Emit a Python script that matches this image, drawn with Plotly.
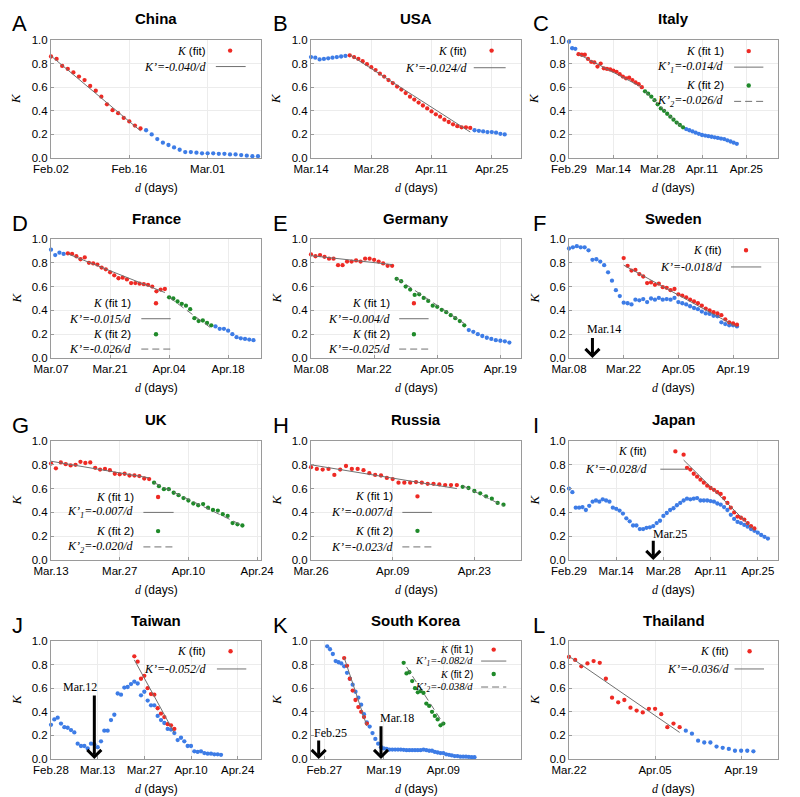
import pandas as pd
import plotly.graph_objects as go
from plotly.subplots import make_subplots

# the page adds an 8px body margin, so the figure is drawn 8px smaller and
# every pixel position below is given in window coordinates minus that offset
OFF = 8
W, H = 800 - OFF, 797 - OFF
RED = "#ee2a24"
BLUE = "#3d7ce6"
GREEN = "#1f8a2a"
FITC = "#707070"
SANS = "Liberation Sans, Arial, sans-serif"
SERIF = "Liberation Serif, Times New Roman, serif"

# ---------------- data ----------------
# A China
china_red_start = "2020-02-02"
china_red = [0.86, 0.84, 0.78, 0.755, 0.725, 0.69, 0.66, 0.61, 0.57, 0.52, 0.455, 0.405,
             0.38, 0.34, 0.31, 0.275, 0.25]
china_blue_start = "2020-02-19"
china_blue = [0.235, 0.2, 0.16, 0.13, 0.11, 0.09, 0.07, 0.05, 0.05, 0.045, 0.04, 0.04, 0.04,
              0.035, 0.035, 0.03, 0.03, 0.025, 0.02, 0.015, 0.015]
china_fit_x = ["2020-02-02", "2020-02-18"]
china_fit_y = [0.865, 0.23]
china_ticks = ["Feb.02", "Feb.16", "Mar.01"]

# B USA
usa_blue_a_start = "2020-03-14"
usa_blue_a = [0.855, 0.85, 0.835, 0.84, 0.845, 0.85, 0.855, 0.86, 0.865]
usa_red_start = "2020-03-23"
usa_red = [0.87, 0.855, 0.84, 0.82, 0.795, 0.77, 0.745, 0.715, 0.69, 0.66, 0.635, 0.605, 0.58,
           0.55, 0.52, 0.495, 0.47, 0.445, 0.42, 0.395, 0.37, 0.35, 0.325, 0.305, 0.285, 0.27,
           0.26, 0.26, 0.255]
usa_blue_b_start = "2020-04-21"
usa_blue_b = [0.235, 0.23, 0.225, 0.22, 0.22, 0.215, 0.205, 0.2]
usa_fit_x = ["2020-03-23", "2020-04-20"]
usa_fit_y = [0.875, 0.22]
usa_ticks = ["Mar.14", "Mar.28", "Apr.11", "Apr.25"]

# C Italy
italy_blue_a_start = "2020-02-29"
italy_blue_a = [0.985, 0.93, 0.925]
italy_red_start = "2020-03-03"
italy_red = [0.88, 0.875, 0.875, 0.84, 0.815, 0.81, 0.775, 0.8, 0.76, 0.755, 0.75, 0.74, 0.73,
             0.71, 0.69, 0.675, 0.68, 0.66, 0.64, 0.625, 0.6]
italy_green_start = "2020-03-24"
italy_green = [0.565, 0.545, 0.52, 0.49, 0.455, 0.42, 0.4, 0.375, 0.35, 0.325, 0.3, 0.28, 0.26]
italy_blue_b_start = "2020-04-06"
italy_blue_b = [0.245, 0.235, 0.225, 0.215, 0.205, 0.195, 0.19, 0.185, 0.18, 0.175, 0.17,
                0.165, 0.16, 0.15, 0.14, 0.13, 0.12]
italy_fit1_x = ["2020-03-03", "2020-03-23"]
italy_fit1_y = [0.88, 0.6]
italy_fit2_x = ["2020-03-24", "2020-04-05"]
italy_fit2_y = [0.565, 0.25]
italy_ticks = ["Feb.29", "Mar.14", "Mar.28", "Apr.11", "Apr.25"]

# D France
france_blue_a_start = "2020-03-07"
france_blue_a = [0.91, 0.865, 0.885, 0.875]
france_red_start = "2020-03-11"
france_red = [0.88, 0.875, 0.855, 0.83, 0.845, 0.8, 0.795, 0.785, 0.76, 0.745, 0.72, 0.695,
              0.67, 0.675, 0.66, 0.63, 0.63, 0.625, 0.62, 0.615, 0.6, 0.56, 0.575, 0.58]
france_green_start = "2020-04-04"
france_green = [0.51, 0.5, 0.475, 0.455, 0.44, 0.41, 0.335, 0.31, 0.315, 0.295, 0.275]
france_blue_b_start = "2020-04-15"
france_blue_b = [0.265, 0.245, 0.245, 0.23, 0.2, 0.175, 0.165, 0.16, 0.155, 0.15]
france_fit1_x = ["2020-03-11", "2020-04-03"]
france_fit1_y = [0.875, 0.55]
france_fit2_x = ["2020-04-04", "2020-04-14"]
france_fit2_y = [0.51, 0.25]
france_ticks = ["Mar.07", "Mar.21", "Apr.04", "Apr.18"]

# E Germany
germany_red_start = "2020-03-08"
germany_red = [0.87, 0.855, 0.865, 0.85, 0.835, 0.835, 0.78, 0.78, 0.81, 0.81, 0.82, 0.81,
               0.835, 0.835, 0.825, 0.81, 0.795, 0.775, 0.775]
germany_green_start = "2020-03-27"
germany_green = [0.665, 0.645, 0.6, 0.575, 0.53, 0.535, 0.505, 0.48, 0.44, 0.43, 0.405, 0.385,
                 0.36, 0.335, 0.31, 0.275]
germany_blue_start = "2020-04-12"
germany_blue = [0.235, 0.22, 0.2, 0.185, 0.17, 0.16, 0.15, 0.145, 0.14, 0.13]
germany_fit1_x = ["2020-03-08", "2020-03-26"]
germany_fit1_y = [0.86, 0.785]
germany_fit2_x = ["2020-03-27", "2020-04-11"]
germany_fit2_y = [0.67, 0.29]
germany_ticks = ["Mar.08", "Mar.22", "Apr.05", "Apr.19"]

# F Sweden
sweden_blue_start = "2020-03-08"
sweden_blue = [0.92, 0.93, 0.94, 0.93, 0.93, 0.905, 0.825, 0.83, 0.81, 0.78, 0.72, 0.65, 0.57,
               0.52, 0.465, 0.46, 0.45, 0.49, 0.485, 0.495, 0.47, 0.5, 0.49, 0.505, 0.49, 0.495,
               0.49, 0.505, 0.47, 0.46, 0.45, 0.435, 0.42, 0.41, 0.39, 0.375, 0.37, 0.355,
               0.35, 0.3, 0.285, 0.275, 0.275, 0.265]
sweden_red_start = "2020-03-22"
sweden_red = [0.84, 0.775, 0.735, 0.74, 0.705, 0.685, 0.63, 0.635, 0.615, 0.625, 0.595, 0.59,
              0.57, 0.58, 0.535, 0.525, 0.51, 0.49, 0.475, 0.46, 0.44, 0.415, 0.4, 0.385,
              0.375, 0.36, 0.325, 0.3, 0.29, 0.28]
sweden_fit_x = ["2020-03-22", "2020-04-20"]
sweden_fit_y = [0.78, 0.26]
sweden_ticks = ["Mar.08", "Mar.22", "Apr.05", "Apr.19"]

# G UK
uk_red_start = "2020-03-13"
uk_red = [0.81, 0.77, 0.82, 0.805, 0.795, 0.8, 0.825, 0.815, 0.82, 0.775, 0.76, 0.765, 0.755,
          0.725, 0.72, 0.725, 0.71, 0.71, 0.705, 0.685, 0.68]
uk_green_start = "2020-04-03"
uk_green = [0.65, 0.62, 0.595, 0.595, 0.565, 0.545, 0.52, 0.5, 0.475, 0.46, 0.47, 0.44, 0.42,
            0.415, 0.385, 0.37, 0.31, 0.3, 0.29]
uk_fit1_x = ["2020-03-13", "2020-04-02"]
uk_fit1_y = [0.83, 0.69]
uk_fit2_x = ["2020-04-03", "2020-04-21"]
uk_fit2_y = [0.65, 0.29]
uk_ticks = ["Mar.13", "Mar.27", "Apr.10", "Apr.24"]

# H Russia
russia_red_start = "2020-03-26"
russia_red = [0.78, 0.765, 0.76, 0.765, 0.715, 0.76, 0.79, 0.765, 0.765, 0.755, 0.73, 0.715,
              0.71, 0.69, 0.68, 0.65, 0.65, 0.65, 0.655, 0.65, 0.64, 0.64, 0.635, 0.63, 0.63,
              0.63]
russia_green_start = "2020-04-21"
russia_green = [0.615, 0.605, 0.58, 0.56, 0.535, 0.515, 0.48, 0.465]
russia_fit1_x = ["2020-03-26", "2020-04-20"]
russia_fit1_y = [0.8, 0.6]
russia_fit2_x = ["2020-04-21", "2020-04-28"]
russia_fit2_y = [0.625, 0.455]
russia_ticks = ["Mar.26", "Apr.09", "Apr.23"]

# I Japan
japan_blue_start = "2020-02-29"
japan_blue = [0.6, 0.57, 0.44, 0.44, 0.445, 0.42, 0.455, 0.49, 0.5, 0.49, 0.51, 0.5, 0.49,
              0.44, 0.43, 0.415, 0.39, 0.35, 0.325, 0.29, 0.29, 0.26, 0.26, 0.27, 0.275, 0.285,
              0.31, 0.33, 0.37, 0.395, 0.42, 0.435, 0.46, 0.48, 0.5, 0.515, 0.51, 0.515, 0.52,
              0.5, 0.5, 0.5, 0.495, 0.49, 0.475, 0.465, 0.445, 0.42, 0.38, 0.345, 0.32, 0.31,
              0.295, 0.28, 0.26, 0.245, 0.23, 0.21, 0.195, 0.18]
japan_red_start = "2020-04-03"
japan_red = [0.885, 0.775, 0.76, 0.725, 0.7, 0.675, 0.65, 0.625, 0.605, 0.59, 0.57, 0.555,
             0.52, 0.48, 0.44, 0.4, 0.365, 0.355, 0.34, 0.31, 0.285, 0.265]
japan_fit_x = ["2020-04-03", "2020-04-24"]
japan_fit_y = [0.84, 0.25]
japan_ticks = ["Feb.29", "Mar.14", "Mar.28", "Apr.11", "Apr.25"]

# J Taiwan
taiwan_blue_start = "2020-02-28"
taiwan_blue = [0.29, 0.335, 0.35, 0.3, 0.27, 0.265, 0.245, 0.225, 0.13, 0.11, 0.11, 0.09,
               0.13, 0.125, 0.1, 0.15, 0.24, 0.24, 0.33, 0.375, 0.555, 0.545, 0.605, 0.61,
               0.635, 0.655, 0.64, 0.54, 0.57, 0.495, 0.455, 0.455, 0.365, 0.33, 0.305, 0.255,
               0.25, 0.22, 0.16, 0.18, 0.15, 0.11, 0.11, 0.065, 0.06, 0.065, 0.05, 0.045,
               0.045, 0.04, 0.04, 0.035]
taiwan_red_start = "2020-03-24"
taiwan_red = [0.87, 0.825, 0.68, 0.705, 0.6, 0.55, 0.545, 0.43, 0.385, 0.355, 0.295, 0.285,
              0.255]
taiwan_fit_x = ["2020-03-24", "2020-04-05"]
taiwan_fit_y = [0.84, 0.22]
taiwan_ticks = ["Feb.28", "Mar.13", "Mar.27", "Apr.10", "Apr.24"]

# K South Korea
korea_blue_start = "2020-02-28"
korea_blue = [0.955, 0.93, 0.89, 0.83, 0.82, 0.81, 0.785, 0.73, 0.68, 0.63, 0.57, 0.52, 0.46,
              0.38, 0.31, 0.275, 0.22, 0.17, 0.13, 0.1, 0.09, 0.085, 0.08, 0.08, 0.08, 0.08,
              0.08, 0.078, 0.075, 0.075, 0.075, 0.075, 0.075, 0.075, 0.08, 0.075, 0.07, 0.07,
              0.06, 0.055, 0.05, 0.05, 0.04, 0.035, 0.03, 0.025, 0.025, 0.02, 0.02, 0.02,
              0.018, 0.015, 0.015]
korea_red_start = "2020-03-05"
korea_red = [0.855, 0.79, 0.68, 0.58, 0.5, 0.44, 0.4, 0.355, 0.3]
korea_green_start = "2020-03-26"
korea_green = [0.815, 0.725, 0.735, 0.66, 0.6, 0.565, 0.575, 0.56, 0.47, 0.45, 0.4, 0.365,
               0.335, 0.285, 0.3]
korea_fit1_x = ["2020-03-05", "2020-03-13"]
korea_fit1_y = [0.86, 0.28]
korea_fit2_x = ["2020-03-27", "2020-04-09"]
korea_fit2_y = [0.78, 0.3]
korea_ticks = ["Feb.27", "Mar.19", "Apr.09"]

# L Thailand
thai_red_start = "2020-03-22"
thai_red = [0.865, 0.84, 0.785, 0.81, 0.83, 0.815, 0.68, 0.52, 0.48, 0.5, 0.435, 0.41, 0.395,
            0.425, 0.425, 0.38, 0.27, 0.3, 0.27]
thai_blue_start = "2020-04-10"
thai_blue = [0.24, 0.215, 0.155, 0.14, 0.14, 0.105, 0.095, 0.085, 0.07, 0.07, 0.07, 0.065]
thai_fit_x = ["2020-03-22", "2020-04-09"]
thai_fit_y = [0.87, 0.225]
thai_ticks = ["Mar.22", "Apr.05", "Apr.19"]

# ---------------- labels ----------------
def kfit(tag):
    return "<span style='font-family:Liberation Serif'><i>K</i></span> (" + tag + ")"

def kslope(v, sub=""):
    s = "<sub>" + sub + "</sub>" if sub else ""
    return "<i>K’" + s + "=" + v + "/d</i>"

def one_fit(v):
    return [(kfit("fit"), "red"), (kslope(v), "solid")]

def two_fits(v1, v2, sub=True):
    return [(kfit("fit 1"), "red"), (kslope(v1, "1" if sub else ""), "solid"),
            (kfit("fit 2"), "green"), (kslope(v2, "2" if sub else ""), "dash")]

panels = [
    dict(letter="A", title="China",
         dots=[("blue", china_blue_start, china_blue), ("red", china_red_start, china_red)],
         fits=[(china_fit_x, china_fit_y, "solid")], ticks=china_ticks,
         xr=["2020-02-02", "2020-03-10 13:00"],
         leg=dict(xt=0.746, xm=0.853, l=(0.785, 0.927), ys=[0.91, 0.775], items=one_fit("-0.040"))),
    dict(letter="B", title="USA",
         dots=[("blue", usa_blue_a_start, usa_blue_a), ("blue", usa_blue_b_start, usa_blue_b),
               ("red", usa_red_start, usa_red)],
         fits=[(usa_fit_x, usa_fit_y, "solid")], ticks=usa_ticks,
         xr=["2020-03-14", "2020-05-01 19:00"],
         leg=dict(xt=0.753, xm=0.86, l=(0.775, 0.927), ys=[0.91, 0.765], items=one_fit("-0.024"))),
    dict(letter="C", title="Italy",
         dots=[("blue", italy_blue_a_start, italy_blue_a), ("blue", italy_blue_b_start, italy_blue_b),
               ("red", italy_red_start, italy_red), ("green", italy_green_start, italy_green)],
         fits=[(italy_fit1_x, italy_fit1_y, "solid"), (italy_fit2_x, italy_fit2_y, "dash")],
         ticks=italy_ticks, xr=["2020-02-29", "2020-05-05"],
         leg=dict(xt=0.749, xm=0.86, l=(0.79, 0.93), ys=[0.906, 0.77, 0.615, 0.48],
                  items=two_fits("-0.014", "-0.026"))),
    dict(letter="D", title="France",
         dots=[("blue", france_blue_a_start, france_blue_a), ("blue", france_blue_b_start, france_blue_b),
               ("red", france_red_start, france_red), ("green", france_green_start, france_green)],
         fits=[(france_fit1_x, france_fit1_y, "solid"), (france_fit2_x, france_fit2_y, "dash")],
         ticks=france_ticks, xr=["2020-03-07", "2020-04-25 19:00"],
         leg=dict(xt=0.39, xm=0.5, l=(0.43, 0.57), ys=[0.46, 0.33, 0.2, 0.075],
                  items=two_fits("-0.015", "-0.026", sub=False))),
    dict(letter="E", title="Germany",
         dots=[("blue", germany_blue_start, germany_blue), ("red", germany_red_start, germany_red),
               ("green", germany_green_start, germany_green)],
         fits=[(germany_fit1_x, germany_fit1_y, "solid"), (germany_fit2_x, germany_fit2_y, "dash")],
         ticks=germany_ticks, xr=["2020-03-08", "2020-04-23 14:00"],
         leg=dict(xt=0.386, xm=0.49, l=(0.42, 0.56), ys=[0.46, 0.33, 0.2, 0.075],
                  items=two_fits("-0.004", "-0.025", sub=False))),
    dict(letter="F", title="Sweden",
         dots=[("blue", sweden_blue_start, sweden_blue), ("red", sweden_red_start, sweden_red)],
         fits=[(sweden_fit_x, sweden_fit_y, "solid")], ticks=sweden_ticks,
         xr=["2020-03-08", "2020-04-30 12:00"],
         leg=dict(xt=0.74, xm=0.847, l=(0.775, 0.92), ys=[0.905, 0.765], items=one_fit("-0.018")),
         arrows=[("2020-03-14", 0.18, "Mar.14", "2020-03-16 20:00", 0.24)]),
    dict(letter="G", title="UK",
         dots=[("red", uk_red_start, uk_red), ("green", uk_green_start, uk_green)],
         fits=[(uk_fit1_x, uk_fit1_y, "solid"), (uk_fit2_x, uk_fit2_y, "dash")],
         ticks=uk_ticks, xr=["2020-03-13", "2020-04-24 19:00"],
         leg=dict(xt=0.403, xm=0.51, l=(0.44, 0.584), ys=[0.53, 0.4, 0.243, 0.11],
                  items=two_fits("-0.007", "-0.020"))),
    dict(letter="H", title="Russia",
         dots=[("red", russia_red_start, russia_red), ("green", russia_green_start, russia_green)],
         fits=[(russia_fit1_x, russia_fit1_y, "solid"), (russia_fit2_x, russia_fit2_y, "dash")],
         ticks=russia_ticks, xr=["2020-03-26", "2020-05-01"],
         leg=dict(xt=0.4, xm=0.507, l=(0.435, 0.576), ys=[0.535, 0.4, 0.245, 0.11],
                  items=two_fits("-0.007", "-0.023", sub=False))),
    dict(letter="I", title="Japan",
         dots=[("blue", japan_blue_start, japan_blue), ("red", japan_red_start, japan_red)],
         fits=[(japan_fit_x, japan_fit_y, "solid")], ticks=japan_ticks,
         xr=["2020-02-29", "2020-05-01"],
         leg=dict(xt=0.385, xm=0.509, l=(0.437, 0.565), ys=[0.913, 0.763], items=one_fit("-0.028")),
         arrows=[("2020-03-25", 0.175, "Mar.25", "2020-03-30", 0.22)]),
    dict(letter="J", title="Taiwan",
         dots=[("blue", taiwan_blue_start, taiwan_blue), ("red", taiwan_red_start, taiwan_red)],
         fits=[(taiwan_fit_x, taiwan_fit_y, "solid")], ticks=taiwan_ticks,
         xr=["2020-02-28", "2020-05-01"],
         leg=dict(xt=0.748, xm=0.855, l=(0.79, 0.93), ys=[0.913, 0.763], items=one_fit("-0.052")),
         arrows=[("2020-03-12", 0.55, "Mar.12", "2020-03-07 18:00", 0.61)]),
    dict(letter="K", title="South Korea",
         dots=[("blue", korea_blue_start, korea_blue), ("red", korea_red_start, korea_red),
               ("green", korea_green_start, korea_green)],
         fits=[(korea_fit1_x, korea_fit1_y, "solid"), (korea_fit2_x, korea_fit2_y, "dash")],
         ticks=korea_ticks, xr=["2020-02-22 07:00", "2020-05-06 10:00"],
         leg=dict(xt=0.78, xm=0.87, l=(0.81, 0.93), ys=[0.927, 0.83, 0.72, 0.61], size=10.5,
                  items=two_fits("-0.082", "-0.038")),
         arrows=[("2020-02-25", 0.17, "Feb.25", "2020-02-29 08:00", 0.22),
                 ("2020-03-18", 0.29, "Mar.18", "2020-03-23 17:00", 0.345)]),
    dict(letter="L", title="Thailand",
         dots=[("blue", thai_blue_start, thai_blue), ("red", thai_red_start, thai_red)],
         fits=[(thai_fit_x, thai_fit_y, "solid")], ticks=thai_ticks,
         xr=["2020-03-22", "2020-04-25"],
         leg=dict(xt=0.775, xm=0.864, l=(0.792, 0.933), ys=[0.913, 0.763], items=one_fit("-0.036"))),
]

COLORS = {"red": RED, "blue": BLUE, "green": GREEN}
# plot frames in window pixels
COL_X = [(51, 261), (311, 521), (569, 778)]
ROW_Y = [(40, 158), (239, 358), (441, 560), (641, 759)]
LETTER_X = [10, 271, 531]
DAYS_LBL = "<span style='font-family:Liberation Serif'><i>d</i></span> (days)"


def px(x):
    return (x - OFF) / W


def py(y):
    return 1 - (y - OFF) / H


fig = make_subplots(rows=4, cols=3)

for i, p in enumerate(panels):
    r, c = i // 3 + 1, i % 3 + 1
    s = "" if i == 0 else str(i + 1)
    x0, x1 = COL_X[c - 1]
    y0, y1 = ROW_Y[r - 1]

    for color, start, vals in p["dots"]:
        fig.add_trace(go.Scatter(x=pd.date_range(start, periods=len(vals), freq="D"), y=vals,
                                 mode="markers", marker=dict(color=COLORS[color], size=4.3),
                                 cliponaxis=False, showlegend=False, hoverinfo="skip"),
                      row=r, col=c)
    for fx, fy, dash in p["fits"]:
        fig.add_trace(go.Scatter(x=fx, y=fy, mode="lines",
                                 line=dict(color=FITC, width=1,
                                           dash="solid" if dash == "solid" else "7px,4px"),
                                 showlegend=False, hoverinfo="skip"),
                      row=r, col=c)

    tickdates = [pd.to_datetime("2020 " + t, format="%Y %b.%d") for t in p["ticks"]]
    fig.update_xaxes(domain=[px(x0), px(x1)], range=p["xr"], tickvals=tickdates,
                     ticktext=p["ticks"], row=r, col=c)
    fig.update_yaxes(domain=[py(y1), py(y0)], range=[0, 1], dtick=0.2, tickformat=".1f",
                     row=r, col=c)

    # axis titles
    fig.add_annotation(xref=f"x{s} domain", yref="paper", x=0.5, y=py(y1 + 30),
                       text=DAYS_LBL, showarrow=False, yanchor="middle",
                       font=dict(family=SANS, size=12, color="black"))
    fig.add_annotation(xref="paper", yref=f"y{s} domain", x=px(x0 - 35), y=0.5,
                       text="<i>K</i>", showarrow=False, textangle=-90,
                       xanchor="center", yanchor="middle",
                       font=dict(family=SERIF, size=13, color="black"))

    # panel title and letter
    fig.add_annotation(xref=f"x{s} domain", yref="paper", x=0.5, y=py(y0 - 21),
                       text="<b>" + p["title"] + "</b>", showarrow=False, yanchor="middle",
                       font=dict(family=SANS, size=15, color="black"))
    fig.add_annotation(xref="paper", yref="paper", x=px(LETTER_X[c - 1]), y=py(y0 - 16),
                       xanchor="left", yanchor="middle", text=p["letter"], showarrow=False,
                       font=dict(family=SANS, size=22, color="black"))

    # gnuplot-style key: text then sample
    L = p["leg"]
    fs = L.get("size", 12)
    for k, (label, kind) in enumerate(L["items"]):
        yy = L["ys"][k]
        fam = SERIF if kind in ("solid", "dash") else SANS
        fig.add_annotation(xref=f"x{s} domain", yref=f"y{s} domain", x=L["xt"], y=yy,
                           text=label, xanchor="right", yanchor="middle", showarrow=False,
                           font=dict(family=fam, size=fs if kind in ("solid", "dash") else fs - 0.5,
                                     color="black"))
        if kind in COLORS:
            fig.add_shape(type="circle", xref=f"x{s} domain", yref=f"y{s} domain",
                          xsizemode="pixel", ysizemode="pixel", xanchor=L["xm"], yanchor=yy,
                          x0=-2.2, x1=2.2, y0=-2.2, y1=2.2, fillcolor=COLORS[kind],
                          line=dict(width=0))
        else:
            fig.add_shape(type="line", xref=f"x{s} domain", yref=f"y{s} domain",
                          x0=L["l"][0], x1=L["l"][1], y0=yy, y1=yy,
                          line=dict(color=FITC, width=1,
                                    dash="solid" if kind == "solid" else "7px,4px"))

    for ad, tail, txt, td, ty in p.get("arrows", []):
        fig.add_annotation(x=ad, y=0.0, ax=ad, ay=tail, xref=f"x{s}", yref=f"y{s}",
                           axref=f"x{s}", ayref=f"y{s}", text="", showarrow=True,
                           arrowhead=4, arrowsize=0.9, arrowwidth=3, arrowcolor="black")
        fig.add_annotation(x=td, y=ty, xref=f"x{s}", yref=f"y{s}", text=txt, showarrow=False,
                           font=dict(family=SERIF, size=12, color="black"))

axis_style = dict(showline=True, mirror=True, linecolor="#9a9a9a", linewidth=1,
                  showgrid=True, gridcolor="#ececec", gridwidth=1, zeroline=False,
                  ticks="inside", ticklen=3, tickcolor="#9a9a9a", automargin=False,
                  tickfont=dict(family=SANS, size=11.5, color="black"))
fig.update_xaxes(**axis_style)
fig.update_yaxes(**axis_style)

fig.update_layout(width=W, height=H, margin=dict(l=0, r=0, t=0, b=0),
                  plot_bgcolor="white", paper_bgcolor="white", showlegend=False,
                  font=dict(family=SANS, color="black"))

fig.write_html("out.html")
